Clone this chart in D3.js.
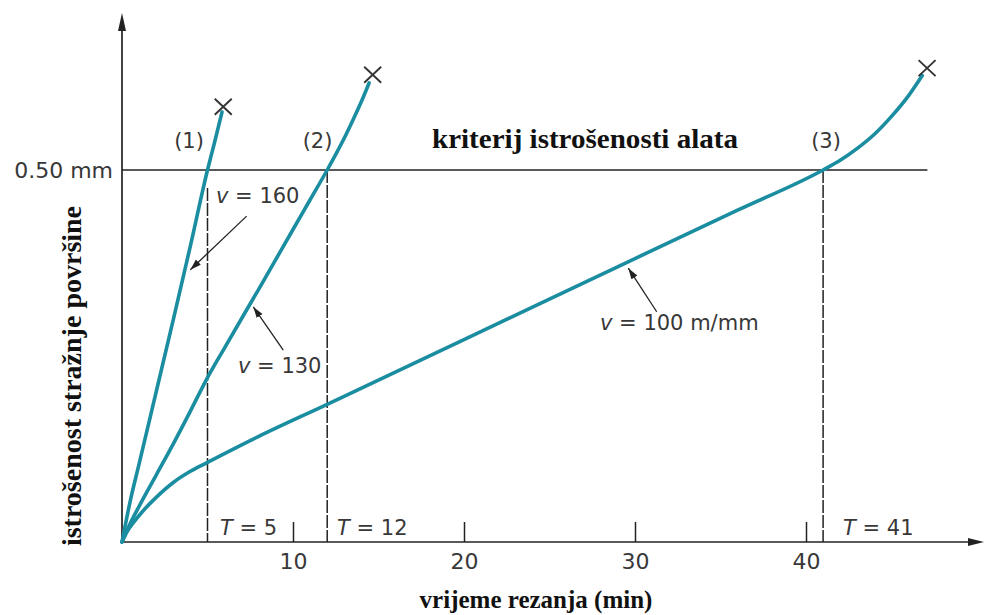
<!DOCTYPE html>
<html>
<head>
<meta charset="utf-8">
<script src="https://cdn.jsdelivr.net/npm/d3@7/dist/d3.min.js"></script>
<style>
  body { margin: 0; background: #fff; }
  svg { display: block; }
</style>
</head>
<body>
<svg id="chart" width="987" height="615"></svg>
<script>
// Flank wear (mm) against cutting time (min) for three cutting speeds
const time160 = [0, 0.5, 1, 2, 3, 4, 5, 5.4, 5.85];
const wear160 = [0, 0.057, 0.105, 0.202, 0.299, 0.398, 0.5, 0.536, 0.578];

const time130 = [0, 0.5, 1, 2, 3, 4, 5, 6, 8, 10, 11, 12, 12.5, 13, 13.5, 14, 14.45];
const wear130 = [0, 0.026, 0.048, 0.09, 0.132, 0.176, 0.221, 0.261, 0.34, 0.42, 0.46, 0.5, 0.521, 0.543, 0.567, 0.592, 0.617];

const time100 = [0, 0.3, 0.7, 1.2, 2, 3, 4, 5, 8, 12, 20, 30, 36, 41, 42, 43, 44, 45, 46, 46.8];
const wear100 = [0, 0.014, 0.027, 0.041, 0.06, 0.08, 0.095, 0.107, 0.142, 0.185, 0.272, 0.381, 0.446, 0.5, 0.513, 0.529, 0.548, 0.572, 0.6, 0.627];

// tool failure points (end of each curve)
const failureTime = [5.92, 14.66, 47.08];
const failureWear = [0.585, 0.628, 0.637];

// tool life at the wear criterion
const toolLife = [5, 12, 41];
const wearCriterion = 0.5;

const curveNames = ["(1)", "(2)", "(3)"];
const speedValues = ["160", "130", "100 m/mm"];
const xTickValues = [10, 20, 30, 40];

const xTitle = "vrijeme rezanja (min)";
const yTitle = "istrošenost stražnje površine";
const criterionTitle = "kriterij istrošenosti alata";

const svg = d3.select("#chart");
const teal = "#1a8da0";
const ink = "#222";
const labelInk = "#383838";
const sans = "'DejaVu Sans', sans-serif";
const serif = "'Liberation Serif', 'Times New Roman', serif";

const x = d3.scaleLinear().domain([0, 50]).range([122, 977]);
const y = d3.scaleLinear().domain([0, 0.7]).range([542, 21.2]);

svg.append("rect").attr("width", 987).attr("height", 615).attr("fill", "#fff");

// arrowhead for the label leaders
const defs = svg.append("defs");
defs.append("marker")
  .attr("id", "lead")
  .attr("markerUnits", "userSpaceOnUse")
  .attr("markerWidth", 12).attr("markerHeight", 8)
  .attr("refX", 11).attr("refY", 4)
  .attr("orient", "auto")
  .append("path").attr("d", "M0,0.5 L11,4 L0,7.5 Z").attr("fill", ink);

// tool life verticals (dashed)
svg.append("g").selectAll("line").data(toolLife).join("line")
  .attr("x1", d => x(d)).attr("x2", d => x(d))
  .attr("y1", (d, i) => i === 0 ? y(wearCriterion) + 18 : y(wearCriterion))
  .attr("y2", y(0))
  .attr("stroke", ink).attr("stroke-width", 1.5)
  .attr("stroke-dasharray", "13,2");

// wear criterion line
svg.append("line")
  .attr("x1", x(0)).attr("x2", x(47.1))
  .attr("y1", y(wearCriterion)).attr("y2", y(wearCriterion))
  .attr("stroke", ink).attr("stroke-width", 1.6);

// x axis ticks and labels
const xAxis = svg.append("g")
  .attr("transform", `translate(0,${y(0)})`)
  .call(d3.axisBottom(x).tickValues(xTickValues).tickSizeInner(-20).tickSizeOuter(0).tickPadding(11.5));
xAxis.select(".domain").remove();
xAxis.selectAll(".tick line").attr("stroke", ink).attr("stroke-width", 1.5);
xAxis.selectAll(".tick text")
  .attr("font-family", sans).attr("font-size", 22).attr("fill", labelInk);

// y axis label at the criterion
const yAxis = svg.append("g")
  .attr("transform", `translate(${x(0)},0)`)
  .call(d3.axisLeft(y).tickValues([wearCriterion]).tickSize(0).tickPadding(9)
    .tickFormat(d => d3.format(".2f")(d) + " mm"));
yAxis.select(".domain").remove();
yAxis.selectAll(".tick text")
  .attr("font-family", sans).attr("font-size", 22).attr("fill", labelInk);

// axis lines with arrowheads
const ox = x(0), oy = y(0);
svg.append("line").attr("x1", ox).attr("x2", 972).attr("y1", oy).attr("y2", oy)
  .attr("stroke", ink).attr("stroke-width", 1.7);
svg.append("path").attr("d", `M984,${oy} L968,${oy - 4} L968,${oy + 4} Z`).attr("fill", ink);
svg.append("line").attr("x1", ox).attr("x2", ox).attr("y1", oy).attr("y2", 26)
  .attr("stroke", ink).attr("stroke-width", 1.7);
svg.append("path").attr("d", `M${ox},13 L${ox - 4},31 L${ox + 4},31 Z`).attr("fill", ink);

// wear curves
const series = [
  time160.map((t, i) => [t, wear160[i]]),
  time130.map((t, i) => [t, wear130[i]]),
  time100.map((t, i) => [t, wear100[i]])
];
const line = d3.line().x(d => x(d[0])).y(d => y(d[1])).curve(d3.curveMonotoneX);
svg.append("g").selectAll("path").data(series).join("path")
  .attr("d", line)
  .attr("fill", "none").attr("stroke", teal).attr("stroke-width", 3.6)
  .attr("stroke-linecap", "round");

// failure crosses
svg.append("g").selectAll("path").data(failureTime).join("path")
  .attr("transform", (d, i) => `translate(${x(d)},${y(failureWear[i])})`)
  .attr("d", "M-8.5,-8 L8.5,8 M-8.5,8 L8.5,-8")
  .attr("stroke", "#333").attr("stroke-width", 1.9).attr("fill", "none");

// curve numbers
const numberPos = [[189, 148], [317.5, 148], [826, 148]];
svg.append("g").selectAll("text").data(curveNames).join("text")
  .attr("x", (d, i) => numberPos[i][0]).attr("y", (d, i) => numberPos[i][1])
  .attr("text-anchor", "middle")
  .attr("font-family", sans).attr("font-size", 21).attr("fill", labelInk)
  .text(d => d);

// criterion caption
svg.append("text")
  .attr("x", 432).attr("y", 148)
  .attr("font-family", serif).attr("font-weight", "bold").attr("font-size", 28)
  .attr("textLength", 306).attr("lengthAdjust", "spacingAndGlyphs")
  .attr("fill", "#111")
  .text(criterionTitle);

// speed labels with leaders
const speedLabelPos = [[216, 203], [238, 373], [600, 330]];
const leaders = [
  [[7.29, 0.438], [4.0, 0.366]],
  [[9.43, 0.258], [7.68, 0.316]],
  [[31.27, 0.3095], [29.61, 0.368]]
];
svg.append("g").selectAll("line").data(leaders).join("line")
  .attr("x1", d => x(d[0][0])).attr("y1", d => y(d[0][1]))
  .attr("x2", d => x(d[1][0])).attr("y2", d => y(d[1][1]))
  .attr("stroke", ink).attr("stroke-width", 1.3)
  .attr("marker-end", "url(#lead)");

const speedText = svg.append("g").selectAll("text").data(speedValues).join("text")
  .attr("x", (d, i) => speedLabelPos[i][0]).attr("y", (d, i) => speedLabelPos[i][1])
  .attr("font-family", sans).attr("font-size", 21).attr("fill", labelInk);
speedText.append("tspan").attr("font-style", "italic").text("v");
speedText.append("tspan").text(d => " = " + d);

// tool life labels
const lifeLabelX = [220, 337, 843];
const lifeText = svg.append("g").selectAll("text").data(toolLife).join("text")
  .attr("x", (d, i) => lifeLabelX[i]).attr("y", 535)
  .attr("font-family", sans).attr("font-size", 21).attr("fill", labelInk);
lifeText.append("tspan").attr("font-style", "italic").text("T");
lifeText.append("tspan").text(d => " = " + d);

// axis titles
svg.append("text")
  .attr("x", 536).attr("y", 608)
  .attr("text-anchor", "middle")
  .attr("font-family", serif).attr("font-weight", "bold").attr("font-size", 25)
  .attr("fill", "#111")
  .text(xTitle);

svg.append("text")
  .attr("transform", "translate(81,376) rotate(-90)")
  .attr("text-anchor", "middle")
  .attr("font-family", serif).attr("font-weight", "bold").attr("font-size", 28)
  .attr("fill", "#111")
  .text(yTitle);
</script>
</body>
</html>
